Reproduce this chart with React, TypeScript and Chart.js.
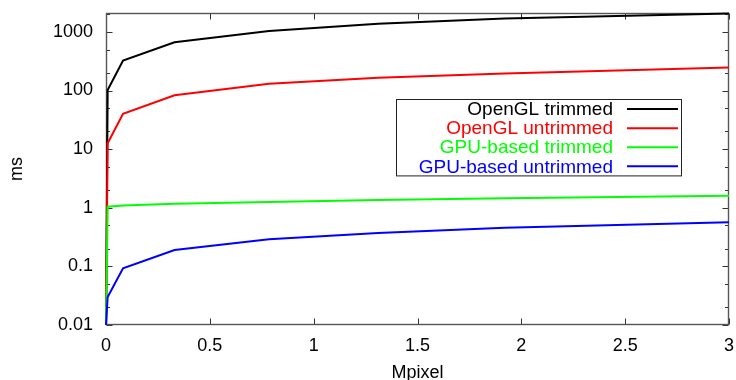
import { useEffect, useRef } from 'react';
import { Chart, registerables } from 'chart.js';

Chart.register(...registerables);

// ---- data ----
const mpixel = [0, 0.008, 0.082, 0.33, 0.785, 1.31, 1.92, 3.0];
const openglTrimmed = [0.01, 102, 324, 667, 1040, 1380, 1700, 2050];
const openglUntrimmed = [0.01, 12.6, 40, 83, 130, 165, 195, 246];
const gpuTrimmed = [0.01, 1.04, 1.09, 1.17, 1.25, 1.35, 1.45, 1.6];
const gpuUntrimmed = [0.01, 0.03, 0.093, 0.19, 0.29, 0.37, 0.455, 0.566];

const seriesLabels = ['OpenGL trimmed', 'OpenGL untrimmed', 'GPU-based trimmed', 'GPU-based untrimmed'];
const seriesColors = ['#000000', '#ff0000', '#00ff00', '#0000ff'];

const xTickValues = [0, 0.5, 1, 1.5, 2, 2.5, 3];
const xTickLabels = ['0', '0.5', '1', '1.5', '2', '2.5', '3'];
const yTickValues = [0.01, 0.1, 1, 10, 100, 1000];
const yTickLabels = ['0.01', '0.1', '1', '10', '100', '1000'];
const yMinorFactors = [2, 5];

const X_MIN = 0;
const X_MAX = 3;
const Y_MIN = 0.01;
const Y_MAX = 2100;

const FONT = '"Liberation Sans", Arial, Helvetica, sans-serif';

const framePlugin = {
  id: 'gnuFrame',
  beforeDatasetsDraw(chart: any) {
    const { ctx, chartArea: a, scales } = chart;
    const xs = scales.x;
    const ys = scales.y;
    const L = Math.round(a.left) + 0.5;
    const R = Math.round(a.right) - 0.5;
    const T = Math.round(a.top) + 0.5;
    const B = Math.round(a.bottom) - 0.5;
    ctx.save();
    ctx.lineWidth = 1;
    ctx.strokeStyle = '#333';
    const seg = (x1: number, y1: number, x2: number, y2: number) => {
      ctx.beginPath();
      ctx.moveTo(x1, y1);
      ctx.lineTo(x2, y2);
      ctx.stroke();
    };
    const major = 6;
    const minor = 3.5;
    xTickValues.forEach((v) => {
      const px = Math.round(xs.getPixelForValue(v)) + 0.5;
      seg(px, B, px, B - major);
      seg(px, T, px, T + major);
    });
    yTickValues.forEach((v) => {
      const py = Math.round(ys.getPixelForValue(v)) + 0.5;
      seg(L, py, L + major, py);
      seg(R, py, R - major, py);
      yMinorFactors.forEach((f) => {
        const mv = v * f;
        if (mv <= Y_MAX) {
          const my = Math.round(ys.getPixelForValue(mv)) + 0.5;
          seg(L, my, L + minor, my);
          seg(R, my, R - minor, my);
        }
      });
    });
    ctx.strokeStyle = '#555';
    ctx.lineWidth = 1.4;
    ctx.strokeRect(L, T, R - L, B - T);
    ctx.restore();
  },
};

const legendPlugin = {
  id: 'boxLegend',
  afterDatasetsDraw(chart: any) {
    const { ctx } = chart;
    const boxL = 396.5;
    const boxT = 99.5;
    const boxR = 681.5;
    const rowH = 19.1;
    const n = chart.data.datasets.length;
    ctx.save();
    ctx.fillStyle = '#ffffff';
    ctx.fillRect(boxL, boxT, boxR - boxL, rowH * n);
    ctx.strokeStyle = '#222';
    ctx.lineWidth = 1;
    ctx.strokeRect(boxL, boxT, boxR - boxL, rowH * n);
    ctx.font = `19px ${FONT}`;
    ctx.textAlign = 'right';
    ctx.textBaseline = 'middle';
    chart.data.datasets.forEach((ds: any, i: number) => {
      const cy = boxT + rowH * (i + 0.5);
      ctx.fillStyle = ds.borderColor;
      ctx.fillText(ds.label, 613, cy + 1);
      ctx.strokeStyle = ds.borderColor;
      ctx.lineWidth = 2;
      ctx.beginPath();
      ctx.moveTo(627, cy);
      ctx.lineTo(678, cy);
      ctx.stroke();
    });
    ctx.restore();
  },
};

export default function App() {
  const ref = useRef<HTMLCanvasElement | null>(null);

  useEffect(() => {
    if (!ref.current) return;
    const series = [openglTrimmed, openglUntrimmed, gpuTrimmed, gpuUntrimmed];
    const chart = new Chart(ref.current, {
      type: 'line',
      data: {
        datasets: series.map((vals, i) => ({
          label: seriesLabels[i],
          data: mpixel.map((x, j) => ({ x, y: vals[j] })),
          borderColor: seriesColors[i],
          backgroundColor: seriesColors[i],
          borderWidth: 2,
          pointRadius: 0,
          tension: 0,
          fill: false,
          clip: 3,
          order: series.length - i,
        })),
      },
      options: {
        responsive: false,
        animation: false,
        events: [],
        layout: { autoPadding: false, padding: { top: 13, right: 7, left: 0, bottom: 0 } },
        plugins: {
          legend: { display: false },
          tooltip: { enabled: false },
          title: { display: false },
        },
        scales: {
          x: {
            type: 'linear',
            min: X_MIN,
            max: X_MAX,
            grid: { display: false, drawTicks: false },
            border: { display: false },
            afterFit: (s: any) => {
              s.height = 55;
              s.paddingLeft = 0;
              s.paddingRight = 0;
            },
            afterBuildTicks: (s: any) => {
              s.ticks = xTickValues.map((v) => ({ value: v }));
            },
            ticks: {
              autoSkip: false,
              maxRotation: 0,
              padding: 10,
              color: '#000',
              font: { family: FONT, size: 18 },
              callback: (v: any) => {
                const i = xTickValues.findIndex((t) => Math.abs(t - Number(v)) < 1e-9);
                return i >= 0 ? xTickLabels[i] : '';
              },
            },
            title: {
              display: true,
              text: 'Mpixel',
              color: '#000',
              font: { family: FONT, size: 18 },
              padding: { top: 0, bottom: -4 },
            },
          },
          y: {
            type: 'logarithmic',
            min: Y_MIN,
            max: Y_MAX,
            grid: { display: false, drawTicks: false },
            border: { display: false },
            afterFit: (s: any) => {
              s.width = 106;
              s.paddingTop = 0;
              s.paddingBottom = 0;
            },
            afterBuildTicks: (s: any) => {
              s.ticks = yTickValues.map((v) => ({ value: v }));
            },
            ticks: {
              autoSkip: false,
              padding: 13,
              color: '#000',
              font: { family: FONT, size: 18 },
              callback: (v: any) => {
                const i = yTickValues.findIndex((t) => Math.abs(Math.log10(t) - Math.log10(Number(v))) < 1e-6);
                return i >= 0 ? yTickLabels[i] : '';
              },
            },
            title: {
              display: true,
              text: 'ms',
              color: '#000',
              font: { family: FONT, size: 18 },
              padding: { top: 6, bottom: 0 },
            },
          },
        },
      },
      plugins: [framePlugin, legendPlugin],
    });
    return () => chart.destroy();
  }, []);

  return (
    <div style={{ position: 'absolute', left: 0, top: 0, width: 736, height: 380, background: '#fff' }}>
      <canvas ref={ref} width={736} height={380} style={{ display: 'block' }} />
    </div>
  );
}
